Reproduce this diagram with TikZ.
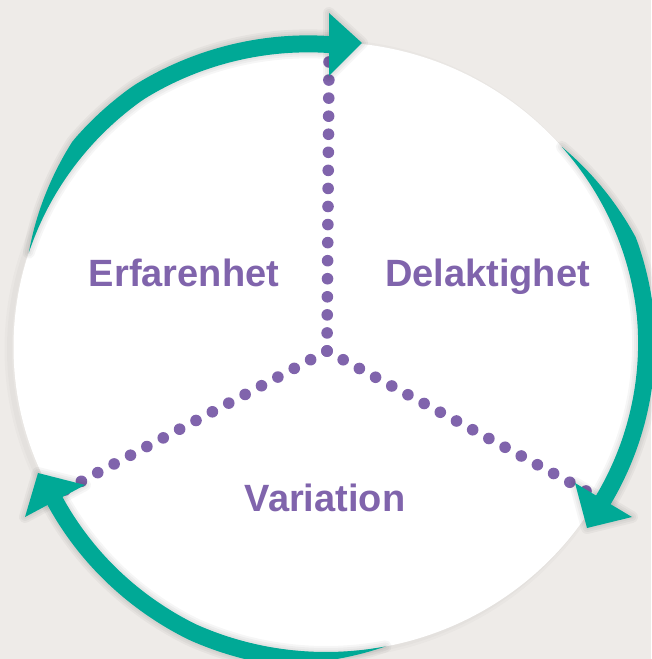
\documentclass[tikz,border=0pt]{standalone}
\usepackage{fontspec}
\setmainfont{Liberation Sans}
\usetikzlibrary{calc}
\definecolor{bgc}{HTML}{EEEBE8}
\definecolor{tealc}{HTML}{00A996}
\definecolor{purp}{HTML}{8064AC}
% tapered teal band: #2 start angle, #3 end angle, #4 end offset
\newcommand\tealband[4][]{%
  \path[#1] plot[domain=0:1.02,samples=90,variable=\t]
    ({326+(312.5+17*min(1,\t/0.3)+(#4-8.5)*max(0,2*\t-1))*cos(#2+(#3-#2)*\t)},
     {312+(305+17*min(1,\t/0.3)+(#4-8.5)*max(0,2*\t-1))*sin(#2+(#3-#2)*\t)})
    -- plot[domain=1.02:0,samples=90,variable=\t]
    ({326+(312.5+(#4-8.5)*max(0,2*\t-1))*cos(#2+(#3-#2)*\t)},
     {312+(305+(#4-8.5)*max(0,2*\t-1))*sin(#2+(#3-#2)*\t)}) -- cycle;}
\begin{document}
\begin{tikzpicture}[x=1pt,y=1pt,
  lbl/.style={text=purp,font=\fontsize{38}{40}\selectfont\bfseries,anchor=base,inner sep=0pt},
  dotc/.style={fill=purp},
  bandfill/.style={fill=tealc},
  halo/.style={draw=black,line width=#1,opacity=0.035,line join=round},
  disc/.style={fill=white}]
\useasboundingbox (0,0) rectangle (651,659);
\fill[bgc] (0,0) rectangle (651,659);
% white disc with a faint shadow on the left
\foreach \w in {10,5}{\draw[black,line width=\w pt,opacity=0.02] (322,310) ellipse [x radius=312.5,y radius=305];}
\fill[disc] (326,312) ellipse [x radius=312.5,y radius=305];
% dotted spokes
\coordinate (ctr) at (327,308);
\coordinate (topend) at (329,597);
\coordinate (rightend) at (586,168);
\coordinate (leftend) at (65,169);
\foreach \e in {topend,rightend,leftend}{
  \foreach \i in {0,...,16}{\fill[dotc] ($(ctr)!{\i/16}!(\e)$) circle [radius=5.8];}}
% arrowhead coordinates
\coordinate (a1t) at (362,616); \coordinate (a1u) at (329,646); \coordinate (a1l) at (329,583);
\coordinate (a2t) at (587,131); \coordinate (a2u) at (575,176); \coordinate (a2l) at (632,142);
\coordinate (a3t) at (38,186);  \coordinate (a3u) at (25,142);  \coordinate (a3l) at (85,174);
% shadows
\foreach \w in {12,8,4}{
  \tealband[halo=\w pt]{162}{89.5}{-2.5}
  \tealband[halo=\w pt]{41}{-29.5}{6}
  \tealband[halo=\w pt]{-79}{-150.2}{1}
  \draw[halo=\w pt] (a1t) -- (a1u) -- (a1l) -- cycle;
  \draw[halo=\w pt] (a2t) -- (a2u) -- (a2l) -- cycle;
  \draw[halo=\w pt] (a3t) -- (a3u) -- (a3l) -- cycle;}
% teal bands and arrowheads
\tealband[bandfill]{162}{89.5}{-2.5}
\tealband[bandfill]{41}{-29.5}{6}
\tealband[bandfill]{-79}{-150.2}{1}
\fill[tealc] (a1t) -- (a1u) -- (a1l) -- cycle;
\fill[tealc] (a2t) -- (a2u) -- (a2l) -- cycle;
\fill[tealc] (a3t) -- (a3u) -- (a3l) -- cycle;
% labels
\node[lbl] (erf) at (184,372) {Erfarenhet};
\node[lbl] (del) at (487.5,372) {Delaktighet};
\node[lbl] (var) at (325,147) {Variation};
\end{tikzpicture}
\end{document}
